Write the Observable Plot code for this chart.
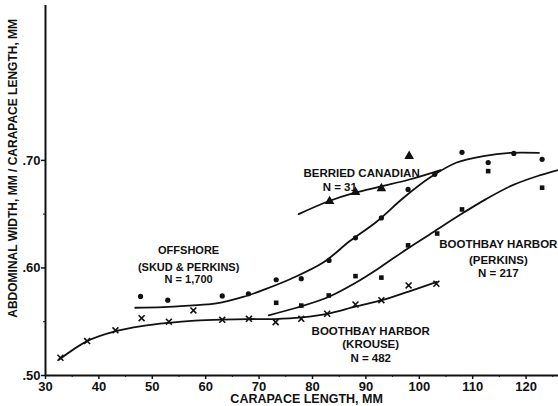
<!DOCTYPE html>
<html>
<head>
<meta charset="utf-8">
<script src="https://cdn.jsdelivr.net/npm/d3@7"></script>
<script src="https://cdn.jsdelivr.net/npm/@observablehq/plot@0.6"></script>
<style>
  html, body { margin: 0; padding: 0; background: #fff; }
  #chart svg { display: block; }
</style>
</head>
<body>
<div id="chart"></div>
<script>
// Tick values and labels
const xTicks = [30, 40, 50, 60, 70, 80, 90, 100, 110, 120];
const xMinorTicks = [35, 45, 55, 65, 75, 85, 95, 105, 115, 125];
const yTicks = [0.50, 0.60, 0.70];
const yTickLabels = [".50", ".60", ".70"];
const yMinorTicks = [0.55, 0.65];

// Offshore (Skud & Perkins) – circles
const offshoreX = [47.8, 52.9, 63.1, 68.0, 73.2, 77.9, 83.1, 88.05, 92.9, 97.9, 102.9, 108.0, 112.9, 117.7, 123.0];
const offshoreY = [0.5735, 0.570, 0.574, 0.576, 0.589, 0.590, 0.607, 0.628, 0.6465, 0.673, 0.687, 0.7075, 0.698, 0.7065, 0.701];
const offshoreCurveX = [46.8, 52, 57, 62, 67, 71, 76, 82, 87, 92, 97, 102, 107, 112, 117, 122.4];
const offshoreCurveY = [0.563, 0.5635, 0.565, 0.567, 0.573, 0.580, 0.590, 0.605, 0.625, 0.643, 0.665, 0.684, 0.698, 0.704, 0.707, 0.707];

// Berried Canadian – triangles
const berriedX = [83.2, 88.05, 92.9, 98.1];
const berriedY = [0.662, 0.6705, 0.674, 0.704];
const berriedCurveX = [77.4, 83, 88, 93, 98, 104];
const berriedCurveY = [0.650, 0.662, 0.670, 0.676, 0.682, 0.691];

// Boothbay Harbor (Perkins) – squares
const perkinsX = [73.2, 77.9, 83.05, 88.05, 92.9, 97.9, 103.35, 108.0, 112.9, 123.0];
const perkinsY = [0.5676, 0.565, 0.5744, 0.5924, 0.591, 0.621, 0.632, 0.6544, 0.690, 0.6746];
const perkinsCurveX = [71.8, 77, 83, 88, 92.5, 97.5, 102.5, 107.5, 112.5, 117.5, 122.5, 126];
const perkinsCurveY = [0.556, 0.563, 0.573, 0.586, 0.600, 0.617, 0.633, 0.649, 0.664, 0.677, 0.686, 0.691];

// Boothbay Harbor (Krouse) – crosses
const krouseX = [32.8, 37.8, 43.1, 48.0, 53.1, 57.7, 63.1, 68.1, 73.1, 77.9, 82.75, 88.05, 92.9, 98.0, 103.2];
const krouseY = [0.5165, 0.532, 0.542, 0.5533, 0.550, 0.5605, 0.5518, 0.5527, 0.5496, 0.5527, 0.5574, 0.566, 0.570, 0.5837, 0.5853];
const krouseCurveX = [32.5, 37.8, 43, 48, 53, 58, 63, 68, 73, 78, 83, 88, 93, 98, 103.3];
const krouseCurveY = [0.5146, 0.532, 0.541, 0.546, 0.549, 0.551, 0.552, 0.5525, 0.5525, 0.554, 0.5575, 0.564, 0.570, 0.578, 0.587];

// Annotation text
const offshoreLabel = ["OFFSHORE", "(SKUD & PERKINS)", "N = 1,700"];
const berriedLabel = ["BERRIED CANADIAN", "N = 31"];
const perkinsLabel = ["BOOTHBAY HARBOR", "(PERKINS)", "N = 217"];
const krouseLabel = ["BOOTHBAY HARBOR", "(KROUSE)", "N = 482"];
const xTitle = "CARAPACE LENGTH, MM";
const yTitle = "ABDOMINAL WIDTH, MM / CARAPACE LENGTH, MM";

const pts = (xs, ys) => xs.map((x, i) => ({x, y: ys[i]}));
const FONT = "'Liberation Sans', Arial, sans-serif";
const INK = "#111";

const lineOpts = {x: "x", y: "y", curve: "catmull-rom", stroke: INK, strokeWidth: 1.8};
const labelStyle = {fontSize: 11.5, fontWeight: "bold", fill: INK};

const chart = Plot.plot({
  width: 558,
  height: 406,
  marginLeft: 45,
  marginRight: 0,
  marginTop: 5,
  marginBottom: 31,
  style: {fontFamily: FONT, background: "#fff", color: INK},
  x: {domain: [30, 126.07], axis: null},
  y: {domain: [0.5, 0.844], axis: null},
  marks: [
    // axes lines
    Plot.ruleY([0.5], {stroke: INK, strokeWidth: 2}),
    Plot.ruleX([30], {stroke: INK, strokeWidth: 2}),
    Plot.axisX({ticks: xTicks, label: null, tickSize: 4, tickPadding: 2, tickFormat: d => String(d), fontSize: 13, fontWeight: "bold", strokeWidth: 1.5}),
    Plot.axisX({ticks: xMinorTicks, label: null, tickSize: 2, text: null}),
    Plot.axisY({ticks: yTicks, label: null, tickSize: 4, tickPadding: 1, tickFormat: (d, i) => yTickLabels[i], fontSize: 13, fontWeight: "bold", strokeWidth: 1.5}),
    Plot.axisY({ticks: yMinorTicks, label: null, tickSize: 2, text: null}),
    // curves
    Plot.line(pts(offshoreCurveX, offshoreCurveY), lineOpts),
    Plot.line(pts(berriedCurveX, berriedCurveY), lineOpts),
    Plot.line(pts(perkinsCurveX, perkinsCurveY), lineOpts),
    Plot.line(pts(krouseCurveX, krouseCurveY), lineOpts),
    // points
    Plot.dot(pts(offshoreX, offshoreY), {x: "x", y: "y", r: 2.6, fill: INK, symbol: "circle"}),
    Plot.dot(pts(berriedX, berriedY), {x: "x", y: "y", r: 3.6, fill: INK, symbol: "triangle"}),
    Plot.dot(pts(perkinsX, perkinsY), {x: "x", y: "y", r: 2.6, fill: INK, symbol: "square"}),
    Plot.dot(pts(krouseX, krouseY), {x: "x", y: "y", r: 2.8, stroke: INK, strokeWidth: 1.6, symbol: "times"}),
    // annotations
    Plot.text(offshoreLabel, {x: 56.8, y: [0.6163, 0.6007, 0.5890], text: d => d, ...labelStyle, fontSize: 11}),
    Plot.text(berriedLabel, {x: [78.3, 81.9], y: [0.688, 0.675], text: d => d, textAnchor: "start", ...labelStyle}),
    Plot.text(perkinsLabel, {x: 114.8, y: [0.6219, 0.607, 0.5949], text: d => d, ...labelStyle}),
    Plot.text(krouseLabel, {x: 90.9, y: [0.541, 0.5288, 0.5158], text: d => d, ...labelStyle}),
    // axis titles
    Plot.text([xTitle], {x: 78.9, y: 0.4777, fontSize: 12.5, fontWeight: "bold", fill: INK}),
    Plot.text([yTitle], {x: 24.0, y: 0.6926, rotate: -90, fontSize: 12, fontWeight: "bold", fill: INK})
  ]
});
document.getElementById("chart").appendChild(chart);
</script>
</body>
</html>
